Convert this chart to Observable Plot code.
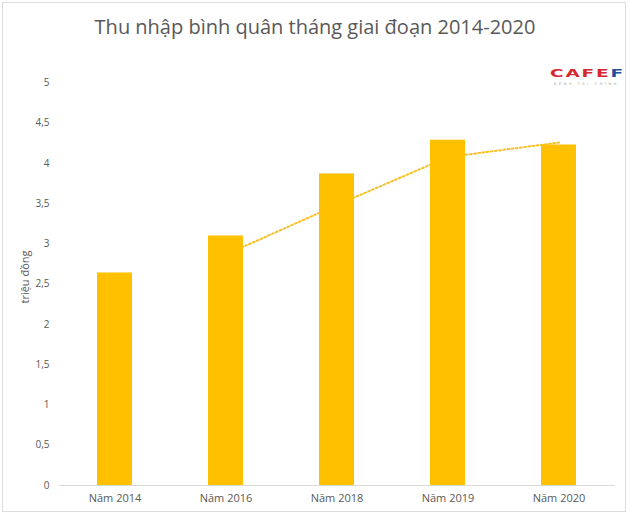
<!DOCTYPE html>
<html>
<head>
<meta charset="utf-8">
<script src="https://cdn.jsdelivr.net/npm/d3@7"></script>
<script src="https://cdn.jsdelivr.net/npm/@observablehq/plot@0.6"></script>
<style>
  html, body { margin: 0; padding: 0; background: #fff; }
  #wrap { position: relative; width: 630px; height: 517px; overflow: hidden; font-family: "Open Sans", "Liberation Sans", sans-serif; }
  #frame { position: absolute; left: 2px; top: 2px; width: 624px; height: 510px; border: 1px solid #dcdcdc; box-sizing: border-box; pointer-events: none; }
  #title { height: 50px; line-height: 50px; text-align: center; font-size: 20px; color: #595959; padding-top: 2px; box-sizing: border-box; }
  #logo { position: absolute; left: 550px; top: 69px; font-family: "DejaVu Sans", sans-serif; font-weight: bold; font-size: 10px; line-height: 10px; letter-spacing: 1px; transform: scaleX(1.85); transform-origin: left top; white-space: nowrap; }
  #logo .r { color: #d7262e; }
  #logo .b { color: #1e4f9c; }
  #logosub { position: absolute; left: 554px; top: 82px; font-family: "DejaVu Sans", sans-serif; font-size: 3.5px; line-height: 4px; color: #9a9a9a; letter-spacing: 2.6px; white-space: nowrap; }
  #ylabel { position: absolute; left: 24px; top: 277px; width: 0; height: 0; }
  #ylabel span { position: absolute; transform: translate(-50%, -50%) rotate(-90deg); font-size: 11px; color: #595959; white-space: nowrap; }
  svg { display: block; }
</style>
</head>
<body>
<div id="wrap">
  <div id="title">Thu nhập bình quân tháng giai đoạn 2014-2020</div>
  <div id="logo"><span class="r">CAFE</span><span class="b">F</span></div>
  <div id="logosub">KÊNH TÀI CHÍNH</div>
  <div id="chart"></div>
  <div id="ylabel"><span>triệu đồng</span></div>
  <div id="frame"></div>
</div>
<script>
const categories = ["Năm 2014", "Năm 2016", "Năm 2018", "Năm 2019", "Năm 2020"];
const incomes = [2.64, 3.10, 3.87, 4.29, 4.23];
const yTicks = [0, 0.5, 1, 1.5, 2, 2.5, 3, 3.5, 4, 4.5, 5];

const bars = categories.map((c, i) => ({cat: c, value: incomes[i]}));
// 2-period moving average trend line (Excel style), starting at second category
const trend = categories.slice(1).map((c, i) => ({cat: c, value: (incomes[i] + incomes[i + 1]) / 2}));

const fmt = d => String(d).replace(".", ",");

const chart = Plot.plot({
  width: 630,
  height: 467,
  marginLeft: 59,
  marginRight: 15.5,
  marginTop: 32.5,
  marginBottom: 32,
  style: {fontFamily: "Open Sans, Liberation Sans, sans-serif", color: "#595959", background: "transparent"},
  x: {domain: categories, paddingInner: 0.685, paddingOuter: 0.3425, align: 0.5, label: null},
  y: {domain: [0, 5], label: null},
  marks: [
    Plot.line(trend, {x: "cat", y: "value", stroke: "#f5c02a", strokeWidth: 2, strokeDasharray: "1.8,2.4"}),
    Plot.barY(bars, {x: "cat", y: "value", fill: "#ffc000"}),
    Plot.ruleY([0], {stroke: "#d9d9d9", strokeWidth: 1}),
    Plot.axisX({tickSize: 0, tickPadding: 9, fontSize: 11, fill: "#595959"}),
    Plot.axisY({ticks: yTicks, tickFormat: fmt, tickSize: 0, tickPadding: 10, fontSize: 10, fill: "#595959", label: null})
  ]
});
document.getElementById("chart").appendChild(chart);
</script>
</body>
</html>
